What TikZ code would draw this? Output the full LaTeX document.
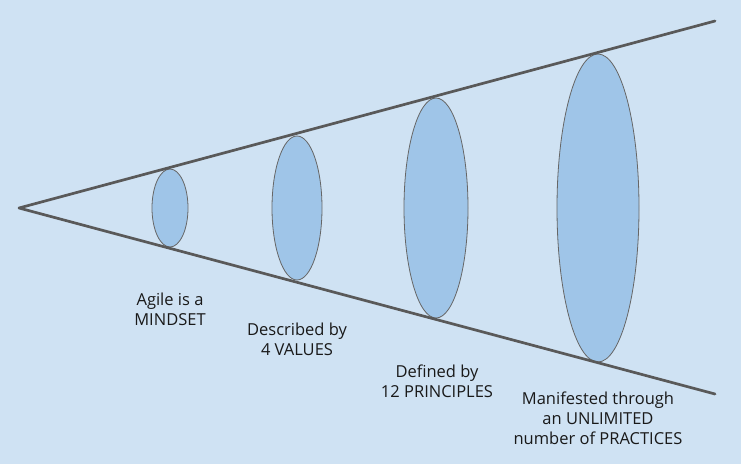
\documentclass[tikz,border=0pt]{standalone}
\usepackage{fontspec}
\setmainfont{Open Sans}
\usepackage{tikz}
\usetikzlibrary{shapes.geometric, positioning}
\definecolor{sky}{HTML}{CFE2F3}
\definecolor{disc}{HTML}{9FC5E8}
\definecolor{cone}{HTML}{595959}
\definecolor{rim}{HTML}{666666}
\begin{document}
\begin{tikzpicture}[x=1pt, y=-1pt,
		ring/.style={ellipse, draw=rim, line width=.8pt, fill=disc, inner sep=0pt},
		caption/.style={align=center, anchor=base, inner sep=0pt, text=black!90, font=\fontsize{16.5}{20}\selectfont}]
				
				% Background
				\fill[sky] (0,0) rectangle (741,464);
				\useasboundingbox (0,0) rectangle (741,464);
				
				% Rings
				\foreach \name/\cx/\rx/\ry in {mind/170/18/39, values/297/25/72, principles/436/32/110, practices/598/41/154} {
					\node[ring, minimum width=2*\rx pt, minimum height=2*\ry pt] (\name) at (\cx,208) {};
				}
				
				% Cone
				\coordinate (apex) at (19,208);
				\coordinate (top) at (715,21);
				\coordinate (bottom) at (715,394);
				\draw[cone, line width=2.7pt, line cap=round, line join=round] (top) -- (apex) -- (bottom);
				
				% Labels (anchored on the last line)
				\node[caption] (lmind) at (170,325) {Agile is a\\MINDSET};
				\node[caption] (lvalues) at (297,355) {Described by\\4 VALUES};
				\node[caption] (lprinciples) at (437,397) {Defined by\\12 PRINCIPLES};
				\node[caption] (lpractices) at (598,444) {Manifested through\\an UNLIMITED\\number of PRACTICES};
			\end{tikzpicture}
\end{document}
